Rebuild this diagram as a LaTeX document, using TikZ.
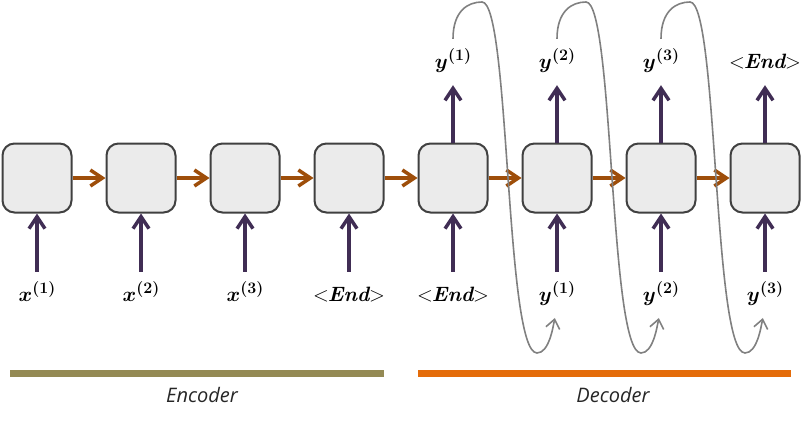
\documentclass[tikz,border=0pt]{standalone}
\usepackage{amsmath,bm}
\usepackage{fontspec}
\newfontfamily\partfont{Open Sans}
\usetikzlibrary{arrows.meta,positioning}
\definecolor{cellfill}{RGB}{235,235,235}
\definecolor{celldraw}{RGB}{64,64,64}
\definecolor{hcol}{RGB}{158,78,10}
\definecolor{vcol}{RGB}{64,45,84}
\definecolor{fbcol}{RGB}{128,128,128}
\definecolor{enccol}{RGB}{148,138,84}
\definecolor{deccol}{RGB}{228,108,10}
\newcommand{\eos}{$<\!\!\textbf{\textit{End}}\!\!>$}
\newcommand{\seqv}[2]{$\bm{#1}$\raisebox{8pt}{\fontsize{16}{16}\selectfont\textbf{(#2)}}}

\begin{document}
\begin{tikzpicture}[x=1pt, y=-1pt,
    cell/.style={draw=celldraw, line width=2pt, fill=cellfill, rounded corners=12pt, minimum size=69pt, inner sep=0pt},
    harr/.style={-{Straight Barb[length=12pt, width=16pt]}, line width=3.5pt, draw=hcol},
    varr/.style={-{Straight Barb[length=12pt, width=16pt]}, line width=3.5pt, draw=vcol},
    fb/.style={-{Straight Barb[length=9pt, width=14pt]}, line width=1.6pt, draw=fbcol},
    lbl/.style={font=\fontsize{20.74}{24}\selectfont, text height=15pt, text depth=4pt, inner sep=2pt, anchor=base},
    bar/.style={line width=6.5pt},
    part/.style={font=\partfont\itshape\fontsize{20}{24}\selectfont, text=black!85}
]
\useasboundingbox (0,0) rectangle (810,420);

% cells
\node[cell] (c1) at (37,178) {};
\node[cell] (c2) at (141,178) {};
\node[cell] (c3) at (245,178) {};
\node[cell] (c4) at (349,178) {};
\node[cell] (c5) at (453,178) {};
\node[cell] (c6) at (557,178) {};
\node[cell] (c7) at (661,178) {};
\node[cell] (c8) at (765,178) {};

% inputs
\node[lbl] (x1) at (37,301) {\seqv{x}{1}};
\node[lbl] (x2) at (141,301) {\seqv{x}{2}};
\node[lbl] (x3) at (245,301) {\seqv{x}{3}};
\node[lbl] (xe) at (349,301) {\eos};
\node[lbl] (de) at (453,301) {\eos};
\node[lbl] (y1) at (557,301) {\seqv{y}{1}};
\node[lbl] (y2) at (661,301) {\seqv{y}{2}};
\node[lbl] (y3) at (765,301) {\seqv{y}{3}};

% outputs
\node[lbl] (o1) at (453,68) {\seqv{y}{1}};
\node[lbl] (o2) at (557,68) {\seqv{y}{2}};
\node[lbl] (o3) at (661,68) {\seqv{y}{3}};
\node[lbl] (oe) at (765,68) {\eos};

\draw[harr] (c1) -- (c2);
\draw[harr] (c2) -- (c3);
\draw[harr] (c3) -- (c4);
\draw[harr] (c4) -- (c5);
\draw[harr] (c5) -- (c6);
\draw[harr] (c6) -- (c7);
\draw[harr] (c7) -- (c8);

\draw[varr, shorten <=12pt] (x1) -- (c1);
\draw[varr, shorten <=12pt] (x2) -- (c2);
\draw[varr, shorten <=12pt] (x3) -- (c3);
\draw[varr, shorten <=12pt] (xe) -- (c4);
\draw[varr, shorten <=12pt] (de) -- (c5);
\draw[varr, shorten <=12pt] (y1) -- (c6);
\draw[varr, shorten <=12pt] (y2) -- (c7);
\draw[varr, shorten <=12pt] (y3) -- (c8);

\draw[varr, shorten >=11pt] (c5) -- (o1);
\draw[varr, shorten >=11pt] (c6) -- (o2);
\draw[varr, shorten >=11pt] (c7) -- (o3);
\draw[varr, shorten >=11pt] (c8) -- (oe);

% feedback loops
\coordinate (pk1) at (482,2);
\coordinate (pk2) at (586,2);
\coordinate (pk3) at (690,2);
\coordinate (lw1) at (537,353);
\coordinate (lw2) at (641,353);
\coordinate (lw3) at (745,353);
\draw[fb, shorten <=12pt, shorten >=11pt] (o1.north) .. controls +(0,-40) and +(-14,0) .. (pk1) .. controls +(28,0) and +(-32,0) .. (lw1) .. controls +(12,0) and +(-4,20) .. (y1.south);
\draw[fb, shorten <=12pt, shorten >=11pt] (o2.north) .. controls +(0,-40) and +(-14,0) .. (pk2) .. controls +(28,0) and +(-32,0) .. (lw2) .. controls +(12,0) and +(-4,20) .. (y2.south);
\draw[fb, shorten <=12pt, shorten >=11pt] (o3.north) .. controls +(0,-40) and +(-14,0) .. (pk3) .. controls +(28,0) and +(-32,0) .. (lw3) .. controls +(12,0) and +(-4,20) .. (y3.south);

% encoder / decoder
\draw[bar, enccol] (10,373.5) -- (384,373.5);
\draw[bar, deccol] (418,373.5) -- (791,373.5);
\node[part] (enc) at (202,395) {Encoder};
\node[part] (dec) at (613,395) {Decoder};
\end{tikzpicture}
\end{document}
